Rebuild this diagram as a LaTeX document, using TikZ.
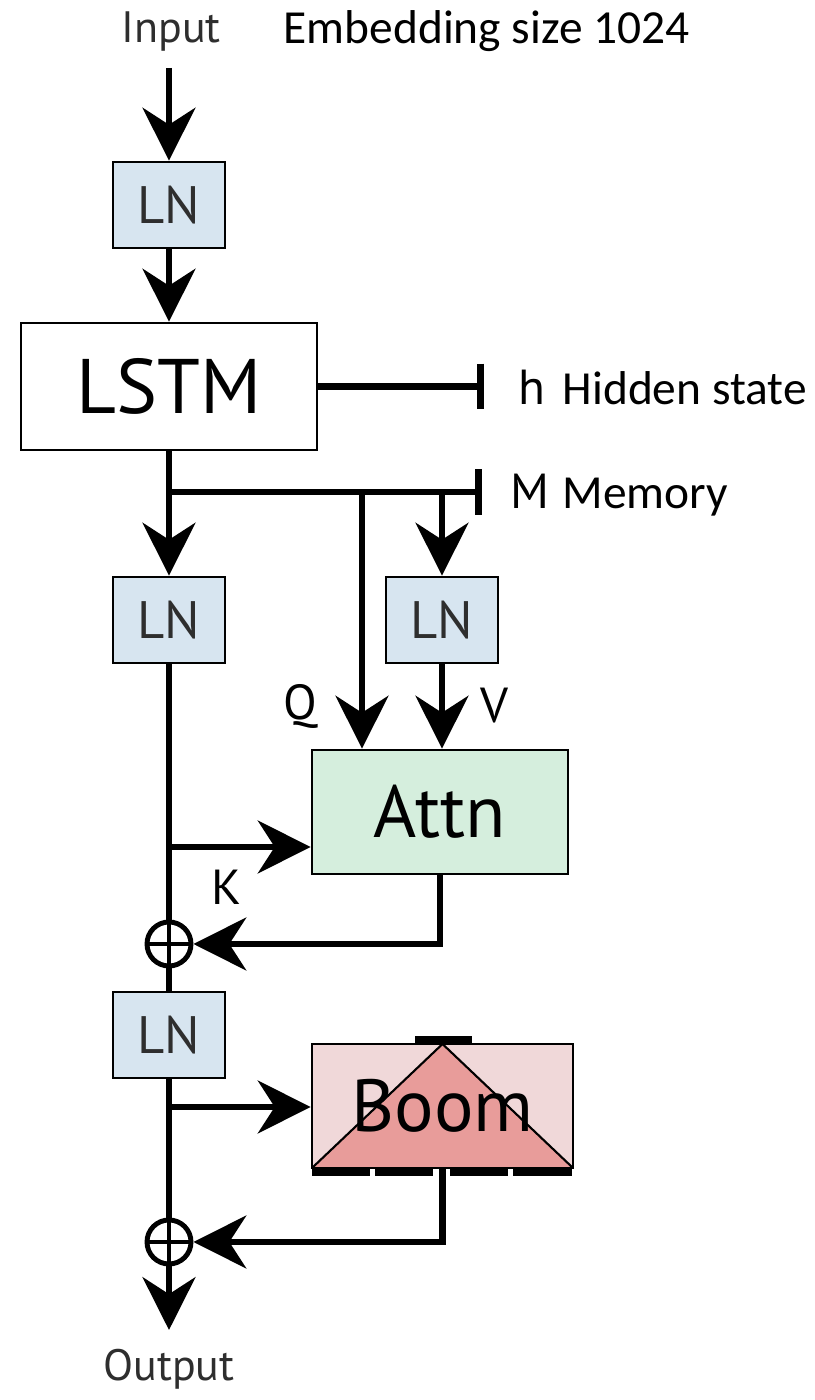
\documentclass[tikz,border=0pt]{standalone}
\usepackage{fontspec}
\setmainfont{PT Sans}
\newfontfamily\calibri{Carlito}
\usepackage{tikz}
\usetikzlibrary{arrows.meta,positioning,calc}
\usepackage{xcolor}

\definecolor{LNBlue}{HTML}{D7E5F0}
\definecolor{AttnGreen}{HTML}{D5EEDD}
\definecolor{BoomPink}{HTML}{F0D8D9}
\definecolor{BoomRed}{HTML}{E89C9A}
\definecolor{LabelGray}{HTML}{2E2E2E}

\tikzset{
  wire/.style={line width=1.9pt},
  arr/.style={wire,-{Stealth[length=15pt,width=15pt,inset=4.8pt]}},
  barend/.style={wire,-{Bar[width=13pt]}},
  lnbox/.style={draw,line width=0.8pt,fill=LNBlue,minimum width=1.12cm,minimum height=0.86cm,
    inner sep=0pt,text=LabelGray,font=\fontsize{15}{18}\selectfont},
  bigbox/.style={draw,line width=0.8pt,inner sep=0pt,font=\fontsize{21}{25}\selectfont},
  plus/.style={circle,draw,line width=1.4pt,minimum size=0.44cm,inner sep=0pt,
    path picture={\draw[line width=1.1pt]
      (path picture bounding box.north) -- (path picture bounding box.south)
      (path picture bounding box.west) -- (path picture bounding box.east);}},
  sidelabel/.style={font=\fontsize{14}{16}\selectfont,inner sep=0pt},
  endlabel/.style={font=\fontsize{12.5}{15}\selectfont,text=LabelGray,anchor=base,inner sep=0pt},
  note/.style={font=\calibri\fontsize{13.5}{16}\selectfont,inner sep=0pt,anchor=base west}
}

\begin{document}
\begin{tikzpicture}
  \useasboundingbox (0,0) rectangle (8.15,14);

  % top labels
  \node[endlabel] (input) at (1.71,13.57) {Input};
  \node[note] (embed) at (2.83,13.56) {Embedding size 1024};
  \coordinate (inpstart) at (1.69,13.32);

  % blocks
  \node[lnbox] (ln1) at (1.69,11.95) {LN};
  \node[bigbox,minimum width=2.96cm,minimum height=1.27cm,font=\fontsize{22}{26}\selectfont] (lstm) at (1.69,10.135) {LSTM};
  \node[lnbox] (ln2) at (1.69,7.80) {LN};
  \node[lnbox] (ln3) at (4.42,7.80) {LN};
  \node[bigbox,fill=AttnGreen,minimum width=2.56cm,minimum height=1.24cm] (attn) at (4.40,5.88) {Attn};
  \node[plus] (add1) at (1.69,4.56) {};
  \node[lnbox] (ln4) at (1.69,3.65) {LN};
  \node[bigbox,fill=BoomPink,minimum width=2.61cm,minimum height=1.24cm,
    path picture={
      \fill[BoomRed] (path picture bounding box.south west) -- (path picture bounding box.north)
        -- (path picture bounding box.south east) -- cycle;
      \draw[line width=0.6pt] (path picture bounding box.south west) -- (path picture bounding box.north)
        -- (path picture bounding box.south east);}] (boom) at (4.425,2.94) {Boom};
  \node[plus] (add2) at (1.69,1.58) {};
  \node[endlabel] (output) at (1.69,0.20) {Output};

  % free ends and junctions
  \coordinate (hend) at (4.84,10.135);
  \coordinate (mjoin) at (1.69,9.08);
  \coordinate (mend) at (4.82,9.08);
  \coordinate (qtop) at (3.62,9.08);
  \coordinate (vtop) at (4.42,9.08);
  \coordinate (kjoin) at (1.69,5.53);
  \coordinate (bjoin) at (1.69,2.93);
  \coordinate (outend) at (1.69,0.70);

  % connectors
  \draw[arr] (inpstart) -- (ln1);
  \draw[arr] (ln1) -- (lstm);
  \draw[barend] (lstm.east) -- (hend);
  \draw[wire] (lstm.south) -- (mjoin);
  \draw[barend] (mjoin) -- (mend);
  \draw[arr] (mjoin) -- (ln2);
  \draw[arr] (qtop) -- (qtop |- attn.north);
  \draw[arr] (vtop) -- (ln3);
  \draw[arr] (ln3) -- (ln3 |- attn.north);
  \draw[wire] (ln2) -- (add1);
  \draw[arr] (kjoin) -- (kjoin -| attn.west);
  \draw[arr] (attn.south) |- (add1);
  \draw[wire] (add1) -- (ln4);
  \draw[wire] (ln4) -- (add2);
  \draw[arr] (bjoin) -- (bjoin -| boom.west);
  \draw[arr] (boom.south) |- (add2);
  \draw[arr] (add2) -- (outend);

  % bars on the Boom block
  \fill (4.15,3.56) rectangle (4.72,3.64);
  \foreach \a/\b in {3.12/3.70,3.75/4.33,4.50/5.08,5.13/5.72}
    \fill (\a,2.24) rectangle (\b,2.32);

  % side labels
  \node[sidelabel] (qlab) at (3.00,6.94) {Q};
  \node[sidelabel] (vlab) at (4.94,6.94) {V};
  \node[sidelabel] (klab) at (2.27,5.13) {K};
  \node[sidelabel,anchor=base] (hlab) at (5.32,9.95) {h};
  \node[sidelabel,anchor=base] (mlab) at (5.30,8.91) {M};
  \node[note] (hidden) at (5.62,9.95) {Hidden state};
  \node[note] (memory) at (5.62,8.91) {Memory};
\end{tikzpicture}
\end{document}
